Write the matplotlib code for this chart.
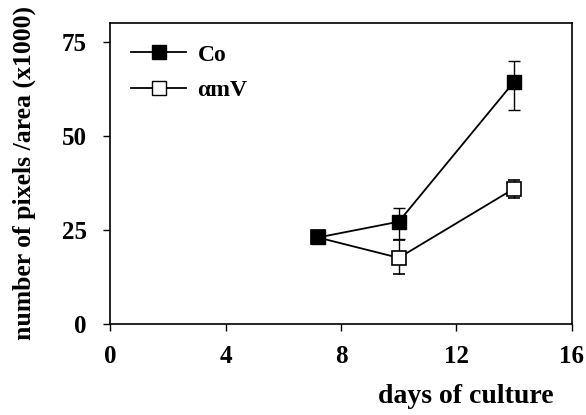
import numpy as np
import matplotlib.pyplot as plt
from matplotlib.lines import Line2D

plt.rcParams['font.family'] = ['Liberation Serif', 'DejaVu Serif']
plt.rcParams['font.weight'] = 'bold'

# data
days = [7.2, 10, 14]
co = [23.0, 27.2, 64.4]
co_err_low = [0.0, 4.5, 7.5]
co_err_high = [0.0, 3.6, 5.4]
amv = [23.0, 17.6, 36.0]
amv_err_low = [0.0, 4.2, 2.4]
amv_err_high = [0.0, 4.8, 2.2]

fig = plt.figure(figsize=(5.86, 4.15), dpi=100)
ax = fig.add_axes([0.188, 0.219, 0.788, 0.726])

ax.errorbar(days, amv, yerr=[amv_err_low, amv_err_high], color='black', lw=1.3,
            marker='s', ms=10, mfc='white', mec='black', mew=1.2,
            ecolor='black', elinewidth=1, capsize=4)
ax.errorbar(days, co, yerr=[co_err_low, co_err_high], color='black', lw=1.3,
            marker='s', ms=10, mfc='black', mec='black',
            ecolor='black', elinewidth=1, capsize=4)

ax.set_xlim(0, 16)
ax.set_ylim(0, 80)
ax.set_xticks([0, 4, 8, 12, 16])
ax.set_yticks([0, 25, 50, 75])
ax.tick_params(axis='both', direction='out', length=5, width=1, labelsize=18)
ax.tick_params(axis='x', pad=10)
ax.tick_params(axis='y', pad=12)
for s in ax.spines.values():
    s.set_linewidth(1.2)

ax.set_ylabel('number of pixels /area (x1000)', fontsize=18.5, fontweight='bold')
ax.yaxis.set_label_coords(-0.16, 0.5)
ax.set_xlabel('days of culture', fontsize=20, fontweight='bold')
ax.xaxis.set_label_coords(0.77, -0.2)

handles = [
    Line2D([], [], color='black', lw=1.3, marker='s', ms=10, mfc='black', mec='black'),
    Line2D([], [], color='black', lw=1.3, marker='s', ms=10, mfc='white', mec='black'),
]
ax.legend(handles, ['Co', 'αmV'], loc='upper left', frameon=False, fontsize=17,
          handlelength=2.3, handletextpad=0.5, borderaxespad=0.5, labelspacing=0.6)

fig.savefig('out.png', dpi=100)
